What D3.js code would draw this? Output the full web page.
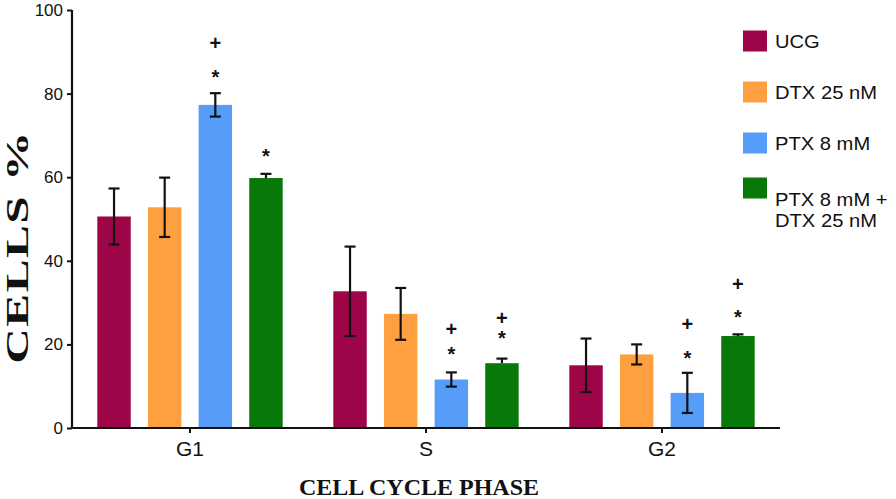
<!DOCTYPE html>
<html>
<head>
<meta charset="utf-8">
<script src="https://cdn.jsdelivr.net/npm/d3@7"></script>
<style>
  body { margin: 0; background: #fff; }
  svg { display: block; }
</style>
</head>
<body>
<svg></svg>
<script>
var width = 896;
var height = 499;

// data
var phases = ['G1', 'S', 'G2'];
var series = ['UCG', 'DTX 25 nM', 'PTX 8 mM', 'PTX 8 mM + DTX 25 nM'];
var ucg = [50.6, 32.7, 15.0];
var dtx = [52.8, 27.3, 17.6];
var ptx = [77.3, 11.6, 8.4];
var combo = [59.8, 15.5, 22.0];
var ucgErr = [6.7, 10.7, 6.4];
var dtxErr = [7.1, 6.2, 2.4];
var ptxErr = [2.8, 1.7, 4.8];
var comboErr = [1.0, 1.1, 0.4];
var yTicks = [0, 20, 40, 60, 80, 100];
// significance marks: [phase, series index, symbol, value position]
var marks = [
    ['G1', 2, '+', 92.1], ['G1', 2, '*', 85.0],
    ['G1', 3, '*', 66.1],
    ['S', 2, '+', 23.6], ['S', 2, '*', 18.6],
    ['S', 3, '+', 26.4], ['S', 3, '*', 22.4],
    ['G2', 2, '+', 25.0], ['G2', 2, '*', 17.8],
    ['G2', 3, '+', 34.4], ['G2', 3, '*', 27.4]
];

var colors = ['#9E0448', '#FFA040', '#559DF9', '#087808'];
var values = [ucg, dtx, ptx, combo];
var errors = [ucgErr, dtxErr, ptxErr, comboErr];

var svg = d3.select('svg')
    .attr('width', width)
    .attr('height', height);

var x0 = d3.scaleBand()
    .domain(phases)
    .range([72, 780])
    .paddingInner(0)
    .paddingOuter(0);

var x1 = d3.scaleBand()
    .domain(d3.range(series.length))
    .range([0, x0.bandwidth()])
    .paddingInner(0.34)
    .paddingOuter(0.5);

var y = d3.scaleLinear()
    .domain([0, 100])
    .range([428, 10]);

var rows = [];
phases.forEach(function (p, i) {
    series.forEach(function (s, j) {
        rows.push({ phase: p, k: j, v: values[j][i], e: errors[j][i] });
    });
});

// bars
svg.append('g').selectAll('rect')
    .data(rows)
    .enter()
    .append('rect')
    .attr('x', function (d) { return x0(d.phase) + x1(d.k); })
    .attr('y', function (d) { return y(d.v); })
    .attr('width', x1.bandwidth())
    .attr('height', function (d) { return y(0) - y(d.v); })
    .attr('fill', function (d) { return colors[d.k]; });

// error bars (combined treatment only shows the upper whisker)
var eb = svg.append('g')
    .attr('stroke', '#111')
    .attr('stroke-width', 2.2)
    .selectAll('g')
    .data(rows)
    .enter()
    .append('g');

var cx = function (d) { return x0(d.phase) + x1(d.k) + x1.bandwidth() / 2; };
var lo = function (d) { return d.k === 3 ? d.v : d.v - d.e; };

eb.append('line')
    .attr('x1', cx).attr('x2', cx)
    .attr('y1', function (d) { return y(d.v + d.e); })
    .attr('y2', function (d) { return y(lo(d)); });
eb.append('line')
    .attr('x1', function (d) { return cx(d) - 5.5; })
    .attr('x2', function (d) { return cx(d) + 5.5; })
    .attr('y1', function (d) { return y(d.v + d.e); })
    .attr('y2', function (d) { return y(d.v + d.e); });
eb.filter(function (d) { return d.k !== 3; })
    .append('line')
    .attr('x1', function (d) { return cx(d) - 5.5; })
    .attr('x2', function (d) { return cx(d) + 5.5; })
    .attr('y1', function (d) { return y(d.v - d.e); })
    .attr('y2', function (d) { return y(d.v - d.e); });

// significance marks
svg.append('g').selectAll('text')
    .data(marks)
    .enter()
    .append('text')
    .attr('x', function (d) { return x0(d[0]) + x1(d[1]) + x1.bandwidth() / 2; })
    .attr('y', function (d) { return y(d[3]) + (d[2] === '+' ? 7 : 11); })
    .attr('text-anchor', 'middle')
    .attr('font-family', 'Liberation Sans, Arial, sans-serif')
    .attr('font-size', 20)
    .attr('font-weight', 'bold')
    .attr('fill', '#111')
    .text(function (d) { return d[2]; });

// axes
var yAxis = svg.append('g')
    .attr('transform', 'translate(72,0)')
    .call(d3.axisLeft(y).tickValues(yTicks).tickSize(5).tickPadding(4));

var xAxis = svg.append('g')
    .attr('transform', 'translate(0,428)')
    .call(d3.axisBottom(x0).tickSize(5).tickPadding(8));

[yAxis, xAxis].forEach(function (a) {
    a.select('.domain').attr('stroke', '#111').attr('stroke-width', 2.2);
    a.selectAll('.tick line').attr('stroke', '#111').attr('stroke-width', 2);
    a.selectAll('.tick text')
        .attr('fill', '#111')
        .attr('font-family', 'Liberation Sans, Arial, sans-serif');
});
yAxis.select('.domain').attr('d', 'M0,428V10');
xAxis.select('.domain').attr('d', 'M72,0H780');
yAxis.selectAll('.tick text').attr('font-size', 17);
xAxis.selectAll('.tick text').attr('font-size', 21);

// axis titles (the y title is stretched along its length in the original)
svg.append('text')
    .attr('transform', 'translate(28,247) rotate(-90) scale(1.45,0.92)')
    .attr('text-anchor', 'middle')
    .attr('font-family', 'Liberation Serif, Times New Roman, serif')
    .attr('font-weight', 'bold')
    .attr('font-size', 34)
    .attr('letter-spacing', 1)
    .attr('fill', '#111')
    .text('CELLS %');

svg.append('text')
    .attr('x', 419)
    .attr('y', 495)
    .attr('text-anchor', 'middle')
    .attr('font-family', 'Liberation Serif, Times New Roman, serif')
    .attr('font-weight', 'bold')
    .attr('font-size', 24)
    .attr('fill', '#111')
    .text('CELL CYCLE PHASE');

// legend
var legendY = [41, 92, 143, 188];
var legend = svg.append('g').selectAll('g')
    .data(series)
    .enter()
    .append('g')
    .attr('transform', function (d, i) { return 'translate(743,' + legendY[i] + ')'; });

legend.append('rect')
    .attr('x', 0)
    .attr('y', -10.5)
    .attr('width', 24)
    .attr('height', 21)
    .attr('fill', function (d, i) { return colors[i]; });

legend.append('text')
    .attr('transform', function (d, i) { return 'translate(32,' + (i === 3 ? 18 : 6.5) + ') scale(1.12,1)'; })
    .attr('font-family', 'Liberation Sans, Arial, sans-serif')
    .attr('font-size', 18)
    .attr('fill', '#111')
    .each(function (d) {
        var t = d3.select(this);
        if (d.indexOf(' + ') > 0) {
            var parts = d.split(' + ');
            t.append('tspan').attr('x', 0).text(parts[0] + ' +');
            t.append('tspan').attr('x', 0).attr('dy', 21.5).text(parts[1]);
        } else {
            t.text(d);
        }
    });
</script>
</body>
</html>
